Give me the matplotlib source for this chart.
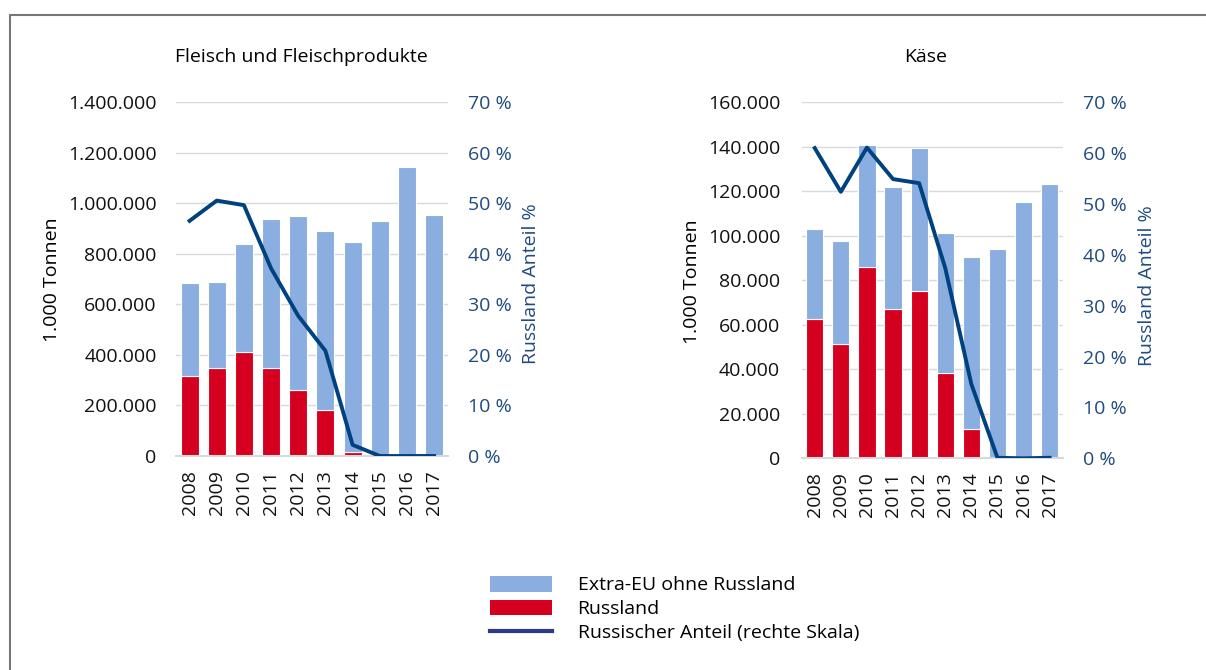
import matplotlib
matplotlib.use("Agg")
import matplotlib.pyplot as plt
from matplotlib.patches import Patch, Rectangle
from matplotlib.lines import Line2D
from matplotlib.ticker import FuncFormatter
import numpy as np

plt.rcParams["font.family"] = ["Open Sans", "DejaVu Sans"]

years = ["2008", "2009", "2010", "2011", "2012", "2013", "2014", "2015", "2016", "2017"]

# Fleisch und Fleischprodukte (Tonnen)
meat_total = [683000, 689000, 837000, 937000, 948000, 889000, 846000, 928000, 1144000, 953000]
meat_russia = [316000, 347000, 413000, 347000, 261000, 182000, 16000, 0, 0, 0]
meat_share = [46.5, 50.5, 49.6, 37.1, 27.7, 20.8, 2.2, 0.0, 0.0, 0.0]

# Käse (Tonnen)
cheese_total = [102900, 97700, 141000, 122000, 139300, 101400, 90600, 94200, 115000, 123400]
cheese_russia = [62600, 51200, 85800, 67000, 75200, 38300, 13000, 0, 0, 0]
cheese_share = [61.0, 52.4, 61.1, 54.9, 54.1, 37.4, 14.6, 0.1, 0.0, 0.1]

BLUE = "#8AAEE0"
RED = "#D50020"
LINE = "#00427F"
AXBLUE = "#1F4B7F"
GRID = "#D9D9D9"
FS = 14

W, H = 1206, 670
fig = plt.figure(figsize=(W / 100, H / 100), dpi=100)


def px(x0, y0, x1, y1):
    return [x0 / W, 1 - y1 / H, (x1 - x0) / W, (y1 - y0) / H]


def dotted(v, pos):
    return f"{int(v):,}".replace(",", ".")


def draw_panel(rect, total, russia, share, ymax, ystep, lpad, rpad):
    ax = fig.add_axes(rect)
    x = np.arange(len(years))
    other = np.array(total) - np.array(russia)
    ax.bar(x, russia, width=0.66, color=RED, edgecolor="white", linewidth=0.8)
    ax.bar(x, other, bottom=russia, width=0.66, color=BLUE, edgecolor="white", linewidth=0.8)
    ax.set_xlim(-0.5, len(years) - 0.5)
    ax.set_ylim(0, ymax)
    ax.set_yticks(np.arange(0, ymax + 1, ystep))
    ax.yaxis.set_major_formatter(FuncFormatter(dotted))
    ax.set_xticks(x)
    ax.set_xticklabels(years, rotation=90)
    ax.set_axisbelow(True)
    ax.grid(axis="y", color=GRID, linewidth=1)
    for s in ["top", "left", "right"]:
        ax.spines[s].set_visible(False)
    ax.spines["bottom"].set_color(GRID)
    ax.spines["bottom"].set_linewidth(1.5)
    ax.tick_params(axis="both", length=0, labelsize=FS, colors="#111111")
    ax.tick_params(axis="y", pad=lpad)
    ax.tick_params(axis="x", pad=10)

    ax2 = ax.twinx()
    ax2.plot(x, share, color=LINE, linewidth=2.8, solid_joinstyle="round")
    ax2.set_ylim(0, 70)
    ax2.set_yticks(np.arange(0, 71, 10))
    ax2.yaxis.set_major_formatter(FuncFormatter(lambda v, p: f"{int(v)} %"))
    for s in ax2.spines.values():
        s.set_visible(False)
    ax2.tick_params(axis="y", length=0, labelsize=FS, colors=AXBLUE, pad=rpad)
    return ax, ax2


draw_panel(px(176, 102, 447.7, 456), meat_total, meat_russia, meat_share,
           1400000, 200000, 14, 14.5)
draw_panel(px(801.7, 102.3, 1062.7, 458.3), cheese_total, cheese_russia, cheese_share,
           160000, 20000, 15.5, 14.5)

# titles and axis labels
fig.text(175 / W, 1 - 57 / H, "Fleisch und Fleischprodukte", fontsize=FS,
         ha="left", va="center")
fig.text(926 / W, 1 - 57 / H, "Käse", fontsize=FS, ha="center", va="center")
fig.text(52 / W, 1 - 280 / H, "1.000 Tonnen", fontsize=FS, rotation=90,
         ha="center", va="center")
fig.text(692 / W, 1 - 282 / H, "1.000 Tonnen", fontsize=FS, rotation=90,
         ha="center", va="center")
fig.text(531 / W, 1 - 284 / H, "Russland Anteil %", fontsize=FS, rotation=90,
         ha="center", va="center", color=AXBLUE)
fig.text(1147 / W, 1 - 286 / H, "Russland Anteil %", fontsize=FS, rotation=90,
         ha="center", va="center", color=AXBLUE)

# legend
handles = [
    Patch(facecolor=BLUE, edgecolor="none"),
    Patch(facecolor=RED, edgecolor="none"),
    Line2D([0], [0], color="#2B3A8C", linewidth=3),
]
labels = ["Extra-EU ohne Russland", "Russland", "Russischer Anteil (rechte Skala)"]
fig.legend(handles, labels, loc="upper left", bbox_to_anchor=(490 / W, 1 - 576 / H),
           frameon=False, fontsize=FS, handlelength=3.2, handleheight=0.85,
           handletextpad=1.3, labelspacing=0.28, borderpad=0, borderaxespad=0)

# outer frame
fig.patches.append(Rectangle((10 / W, -0.01), 1.1, 1 - 15 / H + 0.01,
                             transform=fig.transFigure, fill=False,
                             edgecolor="#777777", linewidth=1.5))

fig.savefig("out.png", dpi=100)
